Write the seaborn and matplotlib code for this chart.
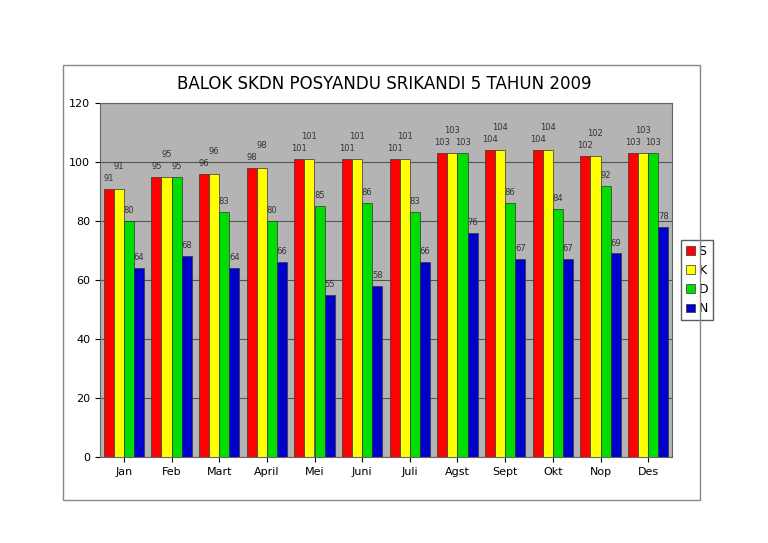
import matplotlib
matplotlib.use("Agg")
import matplotlib.pyplot as plt
import seaborn as sns
import pandas as pd
from matplotlib.patches import Rectangle

months = ["Jan","Feb","Mart","April","Mei","Juni","Juli","Agst","Sept","Okt","Nop","Des"]
S = [91,95,96,98,101,101,101,103,104,104,102,103]
K = [91,95,96,98,101,101,101,103,104,104,102,103]
D = [80,95,83,80,85,86,83,103,86,84,92,103]
N = [64,68,64,66,55,58,66,76,67,67,69,78]
series = ["S","K","D","N"]
colors = ["#ff0000","#ffff00","#00dd00","#0000cc"]

rows = []
for name, vals in zip(series, [S,K,D,N]):
    for m, v in zip(months, vals):
        rows.append({"month": m, "series": name, "value": v})
df = pd.DataFrame(rows)

fig = plt.figure(figsize=(7.68,5.43), dpi=100)
fig.patch.set_facecolor("white")
fig.add_artist(Rectangle((63/768, 1-500/543), (700-63)/768, (500-65)/543, transform=fig.transFigure,
                         fill=False, edgecolor="#888888", lw=1))
ax = fig.add_axes([100/768, 1-457/543, (672-100)/768, (457-103)/543])
ax.set_facecolor("#b4b4b4")
sns.barplot(data=df, x="month", y="value", hue="series", palette=colors, ax=ax,
            width=0.85, edgecolor="#333333", linewidth=0.5, saturation=1)
ax.set_ylim(0,120)
ax.set_yticks(range(0,121,20))
ax.yaxis.grid(True, color="#555555", lw=0.8)
ax.set_axisbelow(True)
ax.set_xlabel(""); ax.set_ylabel("")
ax.tick_params(labelsize=8)
for sp in ax.spines.values():
    sp.set_color("#666666")
offsets = [2, 6, 2, 2]
for cont, off in zip(ax.containers, offsets):
    for rect in cont:
        h = rect.get_height()
        ax.text(rect.get_x()+rect.get_width()/2, h+off, f"{int(h)}", ha="center", va="bottom",
                fontsize=6, color="#333333")
ax.legend(loc="center left", bbox_to_anchor=(1.005, 0.5), frameon=True, fontsize=9,
          handlelength=0.7, handletextpad=0.3, borderpad=0.4, fancybox=False, edgecolor="#333333",
          title=None)
fig.text(0.5, 1-84/543, "BALOK SKDN POSYANDU SRIKANDI 5 TAHUN 2009", ha="center", va="center", fontsize=12)
fig.savefig("out.png", dpi=100)
